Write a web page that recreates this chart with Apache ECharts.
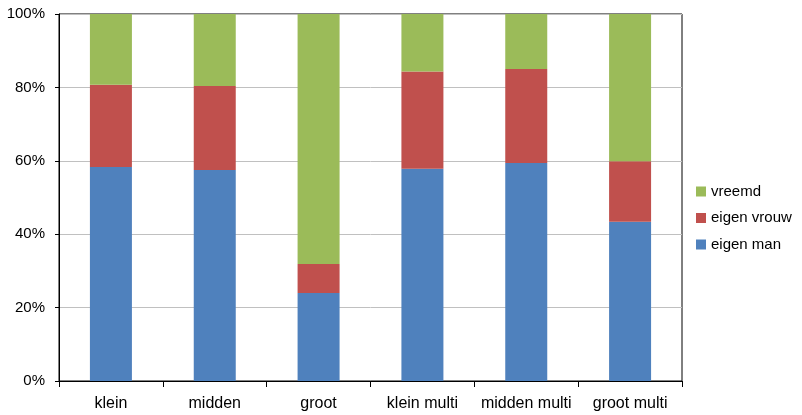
<!DOCTYPE html>
<html><head><meta charset="utf-8">
<script src="https://cdn.jsdelivr.net/npm/echarts@6/dist/echarts.min.js"></script>
<style>html,body{margin:0;padding:0;background:#fff}#c{width:802px;height:415px}</style>
</head><body><div id="c"></div>
<script>
const categories = ['klein', 'midden', 'groot', 'klein multi', 'midden multi', 'groot multi'];
const eigenMan = [58.3, 57.5, 24.0, 57.8, 59.4, 43.4];
const eigenVrouw = [22.4, 22.9, 7.9, 26.5, 25.6, 16.5];
const vreemd = [19.3, 19.6, 68.1, 15.7, 15.0, 40.1];
const yTicks = [0, 20, 40, 60, 80, 100];

const font = 'Liberation Sans';
const chart = echarts.init(document.getElementById('c'), null, {renderer: 'canvas'});
function s(name, data, color) {
  return {name, type: 'bar', stack: 'a', data, barWidth: 42, itemStyle: {color}, emphasis: {disabled: true}};
}
chart.setOption({
  animation: false,
  textStyle: {fontFamily: font},
  grid: {left: 59, top: 14, width: 623, height: 367, show: true, borderColor: '#000', borderWidth: 1, containLabel: false},
  legend: {
    orient: 'vertical', left: 691, top: 179, itemWidth: 10, itemHeight: 10, itemGap: 11.5,
    icon: 'rect', data: ['vreemd', 'eigen vrouw', 'eigen man'],
    textStyle: {fontFamily: font, fontSize: 15, color: '#000'}
  },
  xAxis: {
    type: 'category', data: categories, boundaryGap: true,
    axisLine: {lineStyle: {color: '#000', width: 1}},
    axisTick: {show: true, alignWithLabel: false, length: 6, lineStyle: {color: '#000'}},
    axisLabel: {color: '#000', fontSize: 16, margin: 15, fontFamily: font, interval: 0}
  },
  yAxis: {
    type: 'value', min: yTicks[0], max: yTicks[yTicks.length - 1], interval: 20,
    axisLine: {show: true, lineStyle: {color: '#000', width: 1}},
    axisTick: {show: true, length: 4, lineStyle: {color: '#000'}},
    splitLine: {lineStyle: {color: '#c0c0c0', width: 1}},
    axisLabel: {color: '#000', fontSize: 15, margin: 14, fontFamily: font, formatter: '{value}%'}
  },
  series: [
    s('eigen man', eigenMan, '#4F81BD'),
    s('eigen vrouw', eigenVrouw, '#C0504D'),
    s('vreemd', vreemd, '#9BBB59')
  ]
});
</script></body></html>
